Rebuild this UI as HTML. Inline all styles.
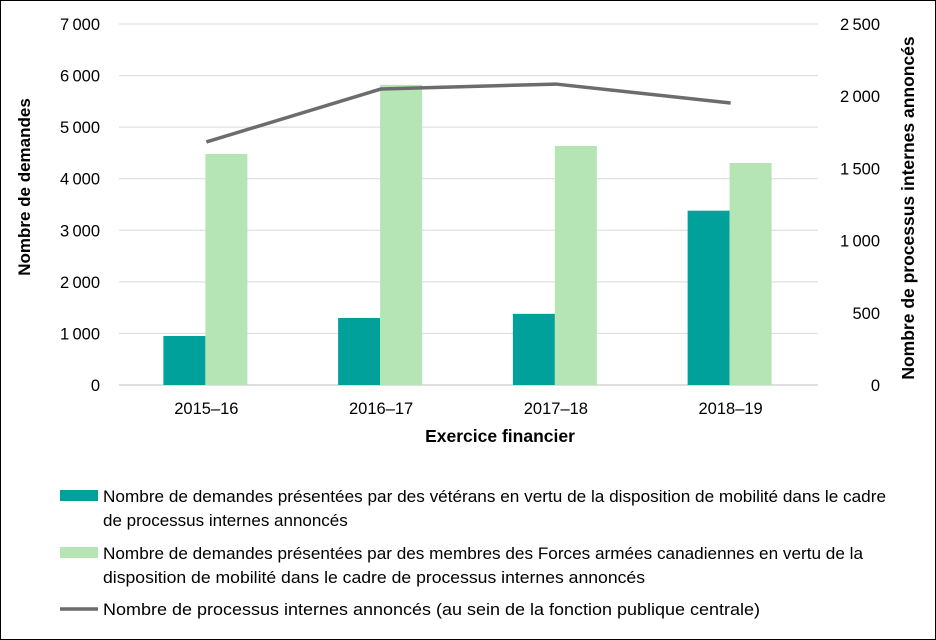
<!DOCTYPE html>
<html><head><meta charset="utf-8"><style>
body{margin:0;background:#fff;}
svg{display:block;font-family:"Liberation Sans",Arial,sans-serif;}
</style></head><body>
<svg id="chart" width="936" height="640" viewBox="0 0 936 640">
<rect x="0.5" y="0.5" width="935" height="639" fill="#fff" stroke="#000"/>
<g id="grid"></g><g id="bars"></g><g id="line"></g><g id="axes"></g>
<text x="0" y="0" transform="translate(30,187) rotate(-90)" text-anchor="middle" font-size="17" font-weight="bold" fill="#000">Nombre de demandes</text>
<text x="0" y="0" transform="translate(914,208) rotate(-90)" text-anchor="middle" font-size="17.5" font-weight="bold" fill="#000">Nombre de processus internes annoncés</text>
<text x="500" y="442" text-anchor="middle" font-size="17.5" font-weight="bold" fill="#000">Exercice financier</text>
<g font-size="17" fill="#000">
<rect x="60" y="490" width="38" height="11" fill="#00a19a"/>
<text x="103" y="502" textLength="783" lengthAdjust="spacingAndGlyphs">Nombre de demandes présentées par des vétérans en vertu de la disposition de mobilité dans le cadre</text>
<text x="103" y="526">de processus internes annoncés</text>
<rect x="60" y="547" width="38" height="11" fill="#b5e4b5"/>
<text x="103" y="559" textLength="760" lengthAdjust="spacingAndGlyphs">Nombre de demandes présentées par des membres des Forces armées canadiennes en vertu de la</text>
<text x="103" y="583" textLength="542" lengthAdjust="spacingAndGlyphs">disposition de mobilité dans le cadre de processus internes annoncés</text>
<line x1="60" y1="609" x2="98" y2="609" stroke="#6d6b6b" stroke-width="3.5"/>
<text x="103" y="615" textLength="657" lengthAdjust="spacingAndGlyphs">Nombre de processus internes annoncés (au sein de la fonction publique centrale)</text>
</g>
</svg>
<script>
const categories=["2015–16","2016–17","2017–18","2018–19"];
const veterans=[950,1300,1380,3380];
const cafMembers=[4480,5820,4635,4305];
const processes=[1683,2050,2084,1953];
const leftTicks=[0,1000,2000,3000,4000,5000,6000,7000];
const rightTicks=[0,500,1000,1500,2000,2500];
const NS="http://www.w3.org/2000/svg";
const X0=119,X1=818,Y0=385,Y1=24;
function xc(i){return X0+(i+0.5)*(X1-X0)/categories.length;}
function yL(v){return Y0-v/7000*(Y0-Y1);}
function yR(v){return Y0-v/2500*(Y0-Y1);}
function fmt(v){return v>=1000?Math.floor(v/1000)+"\u202f"+String(v%1000).padStart(3,"0"):String(v);}
function mk(tag,attrs,parent,text){const e=document.createElementNS(NS,tag);for(const k in attrs)e.setAttribute(k,attrs[k]);if(text!==undefined)e.textContent=text;document.getElementById(parent).appendChild(e);return e;}
leftTicks.forEach(t=>{
 const g=mk("line",{x1:X0,x2:X1,y1:yL(t),y2:yL(t),stroke:t===0?"#bfbfbf":"#d9d9d9","stroke-width":1},"grid");
 
 
 const l=mk("text",{x:100,y:yL(t)+6,"text-anchor":"end","font-size":"16.5",fill:"#000"},"axes",fmt(t));
 
 
});
rightTicks.forEach(t=>{
 const l=mk("text",{x:880,y:yR(t)+6,"text-anchor":"end","font-size":"16.5",fill:"#000"},"axes",fmt(t));
 
 
});
categories.forEach((c,i)=>{
 const l=mk("text",{x:xc(i),y:414,"text-anchor":"middle","font-size":"16.5",fill:"#000"},"axes",c);
 
 
 const b1=mk("rect",{x:xc(i)-43,y:yL(veterans[i]),width:42,height:Y0-yL(veterans[i]),fill:"#00a19a"},"bars");
 
 
 const b2=mk("rect",{x:xc(i)-1,y:yL(cafMembers[i]),width:42,height:Y0-yL(cafMembers[i]),fill:"#b5e4b5"},"bars");
 
 
});
const pts=processes.map((v,i)=>xc(i)+","+yR(v)).join(" ");
const pl=mk("polyline",{points:pts,fill:"none",stroke:"#6d6b6b","stroke-width":3.5,"stroke-linejoin":"round"},"line");


</script>
</body></html>
